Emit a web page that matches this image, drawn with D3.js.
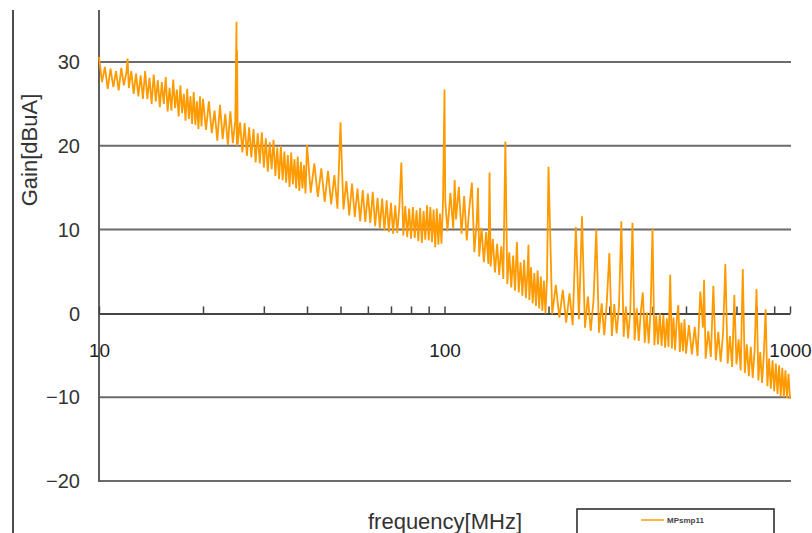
<!DOCTYPE html>
<html>
<head>
<meta charset="utf-8">
<script src="https://cdn.jsdelivr.net/npm/d3@7"></script>
<style>
  body { margin: 0; background: #fff; }
  svg { display: block; font-family: "Liberation Sans", Arial, sans-serif; }
</style>
</head>
<body>
<div id="chart"></div>
<script>
const spectrum10 = [
  [10.0,30.6],[10.2,27.6],[10.4,29.4],[10.6,26.8],[10.8,29.2],[11.0,27.0],[11.2,28.9],[11.4,26.6],
  [11.6,29.3],[11.8,27.2],[12.0,28.7],[12.1,30.4],[12.2,26.9],[12.4,28.9],[12.6,26.2],[12.8,28.6],
  [13.0,25.9],[13.2,28.4],[13.4,25.6],[13.6,28.9],[13.8,25.6],[14.0,28.1],[14.2,25.0],[14.4,28.5],
  [14.6,25.3],[14.8,27.8],[15.0,24.6],[15.2,27.6],[15.4,25.0],[15.6,28.2],[15.8,24.1],[16.0,26.9],
  [16.2,24.2],[16.4,27.9],[16.6,24.5],[16.8,26.7],[17.0,23.5],[17.2,27.2],[17.4,23.9],[17.6,26.2],
  [17.8,23.0],[18.0,26.8],[18.2,23.2],[18.4,25.9],[18.6,22.6],[18.8,26.4],[19.0,22.5],[19.2,25.3],
  [19.4,22.0],[19.6,25.9],[19.8,22.3]
];
const spectrum20 = [
  [20.0,25.6],[20.4,21.9],[20.8,25.3],[21.2,21.5],[21.6,24.2],[22.0,20.6],[22.4,24.9],[22.8,20.8],
  [23.2,23.8],[23.6,20.1],[24.0,24.1],[24.4,20.3],[24.8,23.0],[25.0,34.8],[25.05,20.0],[25.1,31.4],
  [25.2,20.2],[25.6,22.8],[26.0,19.2],[26.4,22.7],[26.8,18.8],[27.2,22.2],[27.6,18.6],[28.0,22.0],
  [28.4,18.0],[28.8,21.5],[29.2,17.9],[29.6,21.6],[30.0,17.4],[30.4,20.9],[30.8,16.9],[31.2,20.4],
  [31.6,17.2],[32.0,20.7],[32.4,16.4],[32.8,19.8],[33.2,16.0],[33.6,20.0],[34.0,15.9],[34.4,19.3],
  [34.8,15.6],[35.2,18.9],[35.6,15.1],[36.0,19.2],[36.4,15.4],[36.8,18.4],[37.2,14.9],[37.6,18.7],
  [38.0,14.6],[38.4,18.1],[38.8,14.9],[39.2,17.7],[39.6,14.3]
];
const spectrum40 = [
  [40,20.1],[41,14.4],[42,17.9],[43,13.9],[44,17.3],[45,13.3],[46,17.0],[47,13.0],[48,16.5],[49,12.5],
  [50,22.8],[50.5,17.3],[51,12.4],[52,15.8],[53,11.7],[54,15.5],[55,11.5],[56,14.9],[57,11.0],[58,14.7],
  [59,10.9],[60,14.3],[61,10.8],[62,14.5],[63,10.4],[64,13.8],[65,10.2],[66,13.7],[67,9.9],[68,13.5],
  [69,9.7],[70,13.2],[71,9.5],[72,12.9],[73,9.6],[74,12.7],[75,18.0],[76,9.3],[77,12.8],[78,9.1],
  [79,12.5],[80,8.9],[81,12.7],[82,9.0],[83,12.3],[84,8.6],[85,12.6],[86,8.4],[87,12.2],[88,8.8],
  [89,12.9],[90,8.7],[91,12.7],[92,8.5],[93,12.4],[94,7.9],[95,12.5],[96,8.2],[97,11.9],[98,8.3],[99,13.2]
];
const spectrum100 = [
  [100,26.7],[100.5,13.5],[102,9.8],[104,14.4],[106,10.1],[107,15.9],[108,11.2],[110,15.1],[112,9.5],
  [114,14.0],[116,8.7],[118,12.6],[120,15.6],[122,7.3],[124,11.0],[125,15.0],[126,6.8],[128,10.2],
  [130,6.1],[132,9.7],[134,5.9],[135,16.8],[136,5.6],[138,8.9],[140,4.9],[142,8.3],[144,4.6],[146,8.0],
  [148,4.1],[150,20.5],[152,3.5],[154,7.3],[156,3.1],[158,6.9],[160,2.7],[162,8.5],[164,2.5],[166,6.1],
  [168,2.1],[170,6.4],[172,1.8],[174,5.3],[175,8.2],[176,1.6],[178,5.5],[180,1.2],[182,4.8],[184,0.9],
  [186,5.1],[188,0.6],[190,4.4],[192,0.3],[194,3.9],[196,0.0],[198,4.2]
];
const spectrum200 = [
  [200,17.5],[205,-0.1],[210,3.4],[215,-0.5],[220,2.8],[225,-1.1],[230,2.4],[235,-1.4],[240,10.3],
  [245,-0.7],[250,11.6],[255,-1.7],[260,2.0],[265,-2.1],[270,1.6],[275,10.0],[280,-2.3],[285,1.2],
  [290,-2.6],[295,1.4],[300,7.2],[305,-2.7],[310,1.1],[315,-2.4],[320,0.9],[325,11.0],[330,-2.8],
  [335,0.8],[340,-3.0],[345,0.4],[350,10.8],[355,-3.2],[360,0.6],[365,-3.3],[370,0.2],[375,2.5],
  [380,-3.5],[385,0.1],[390,-3.6],[395,0.4],[400,10.2],[405,-3.8],[410,-0.3],[415,-3.7],[420,0.0],
  [425,-3.9],[430,-0.2],[435,-4.1],[440,-0.6],[445,-4.0],[450,4.6],[455,-4.2],[460,-0.5],[465,-4.4],
  [470,-0.8],[475,1.0],[480,-4.6],[485,-1.1],[490,-4.5],[495,-0.7]
];
const spectrum500 = [
  [500,-4.8],[510,-1.4],[520,-4.9],[530,-1.6],[540,-5.1],[550,2.6],[560,-1.7],[564,4.0],[570,-5.4],
  [580,-2.1],[590,-5.2],[600,3.3],[610,-5.6],[620,-2.2],[630,-5.8],[640,-2.4],[650,5.9],[660,-6.0],
  [670,-2.7],[680,-6.4],[690,2.2],[700,-6.1],[710,-3.1],[720,-6.8],[730,5.3],[740,-7.1],[750,-3.7],
  [760,-7.5],[770,-4.0],[780,-7.7],[790,-4.4],[800,2.9],[810,-8.0],[820,-4.6],[830,-8.3],[840,-4.9],
  [850,0.5],[860,-8.7],[870,-5.4],[880,-9.0],[890,-5.6],[900,-9.3],[910,-6.0],[920,-9.6],[930,-6.2],
  [940,-9.9],[950,-6.5],[960,-10.0],[970,-6.8],[980,-10.1],[990,-7.2],[1000,-10.2]
];
const spectrum = [].concat(spectrum10, spectrum20, spectrum40, spectrum100, spectrum200, spectrum500);

const gridValues = [30, 20, 10, 0, -10, -20];
const minorTicks = [20, 30, 40, 50, 60, 70, 80, 90, 200, 300, 400, 500, 600, 700, 800, 900, 1000];
const majorTicks = [10, 100, 1000];
const seriesName = "MPsmp11";

const width = 812, height = 533;
const plot = {left: 99, right: 790, top: 10, bottom: 481};

const svg = d3.select("#chart").append("svg")
    .attr("width", width)
    .attr("height", height);

const x = d3.scaleLog()
    .domain([10, 1000])
    .range([plot.left, plot.right]);

const y = d3.scaleLinear()
    .domain([-20, 36.2])
    .range([plot.bottom, plot.top]);

// outer frame edge on the left
svg.append("line")
    .attr("x1", 13).attr("x2", 13)
    .attr("y1", 10).attr("y2", height)
    .attr("stroke", "#111").attr("stroke-width", 1.5);

// horizontal grid lines
svg.append("g")
    .selectAll("line")
    .data(gridValues.filter(d => d !== 0))
    .join("line")
    .attr("x1", plot.left).attr("x2", plot.right + 1)
    .attr("y1", d => y(d)).attr("y2", d => y(d))
    .attr("stroke", "#6b6b6b")
    .attr("stroke-width", 2);

// left axis line
svg.append("line")
    .attr("x1", plot.left).attr("x2", plot.left)
    .attr("y1", plot.top).attr("y2", plot.bottom + 1)
    .attr("stroke", "#5e5e5e").attr("stroke-width", 2);

// y tick labels
svg.append("g")
    .selectAll("text")
    .data(gridValues)
    .join("text")
    .attr("x", 80)
    .attr("y", d => y(d))
    .attr("dy", "0.36em")
    .attr("text-anchor", "end")
    .attr("font-size", 20)
    .attr("fill", "#333")
    .text(d => d < 0 ? "\u2212" + Math.abs(d) : d);

// x axis drawn at 0
const xAxis = svg.append("g")
    .attr("transform", `translate(0,${y(0)})`)
    .call(d3.axisBottom(x)
        .tickValues(majorTicks.concat(minorTicks.filter(d => d !== 1000)))
        .tickSizeInner(-7)
        .tickSizeOuter(0)
        .tickPadding(30)
        .tickFormat(d => majorTicks.includes(d) ? d : ""));

xAxis.select(".domain").attr("stroke", "#444").attr("stroke-width", 2);
xAxis.selectAll(".tick line").attr("stroke", "#444").attr("stroke-width", 1.5);
xAxis.selectAll(".tick text")
    .attr("font-size", 19)
    .attr("font-family", "Liberation Sans, Arial, sans-serif")
    .attr("fill", "#222");

// spectrum trace
const line = d3.line()
    .x(d => x(d[0]))
    .y(d => y(d[1]));

svg.append("path")
    .datum(spectrum)
    .attr("fill", "none")
    .attr("stroke", "#ff9a00")
    .attr("stroke-width", 1.8)
    .attr("stroke-linejoin", "bevel")
    .attr("d", line);

// axis titles
svg.append("text")
    .attr("x", 445)
    .attr("y", 529)
    .attr("text-anchor", "middle")
    .attr("font-size", 22)
    .attr("fill", "#333")
    .text("frequency[MHz]");

svg.append("text")
    .attr("transform", "translate(37,150) rotate(-90)")
    .attr("text-anchor", "middle")
    .attr("font-size", 22)
    .attr("fill", "#333")
    .text("Gain[dBuA]");

// legend
const legend = svg.append("g");
legend.append("rect")
    .attr("x", 577).attr("y", 509)
    .attr("width", 197).attr("height", 40)
    .attr("fill", "#fff")
    .attr("stroke", "#222").attr("stroke-width", 1.5);
legend.append("line")
    .attr("x1", 641).attr("x2", 664)
    .attr("y1", 520).attr("y2", 520)
    .attr("stroke", "#ff9a00").attr("stroke-width", 1.5);
legend.append("text")
    .attr("x", 667).attr("y", 523)
    .attr("font-size", 8)
    .attr("font-weight", "bold")
    .attr("fill", "#444")
    .text(seriesName);
</script>
</body>
</html>
